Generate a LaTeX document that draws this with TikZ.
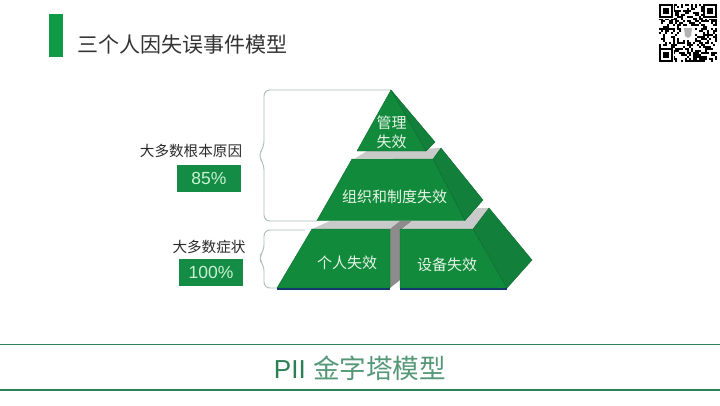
\documentclass[tikz,border=0pt]{standalone}
\usepackage{fontspec}
\setmainfont{Liberation Sans}
\newfontfamily\cjk{Noto Sans CJK SC}
\definecolor{pgreen}{HTML}{128A3C}
\definecolor{pside}{HTML}{12803A}
\definecolor{pedge}{HTML}{0E6A30}
\definecolor{bargreen}{HTML}{119A45}
\definecolor{boxgreen}{HTML}{148C45}
\definecolor{lightgrey}{HTML}{C9CBCA}
\definecolor{darkgrey}{HTML}{8C8C8C}
\definecolor{navy}{HTML}{123A6E}
\definecolor{bracec}{HTML}{A9BDB4}
\definecolor{rulec}{HTML}{2C8258}
\definecolor{titlec}{HTML}{333333}
\definecolor{labelc}{HTML}{2A2A2A}
\definecolor{wtext}{HTML}{E4F5E6}
\definecolor{pctext}{HTML}{C9F2D2}
\definecolor{bottomc}{HTML}{2A7F55}
\tikzset{
  front/.style={fill=pgreen,draw=pedge,line width=0.4pt},
  sideface/.style={fill=pside,draw=pedge,line width=0.4pt},
  lband/.style={fill=lightgrey,draw=none},
  dband/.style={fill=darkgrey,draw=none},
  facetext/.style={text=wtext,font=\cjk\fontsize{15}{19}\selectfont,align=center,inner sep=0pt},
  sidelabel/.style={text=labelc,font=\cjk\fontsize{14.6}{17}\selectfont,inner sep=0pt},
  pctbox/.style={fill=boxgreen,text=pctext,font=\fontsize{17.5}{20}\selectfont,minimum width=64pt,minimum height=27pt,inner sep=0pt},
  bracel/.style={draw=bracec,line width=0.9pt,rounded corners=6pt},
  rulel/.style={draw=rulec,line width=1.8pt},
  qrm/.style={fill=black,draw=none}
}
\begin{document}
\begin{tikzpicture}[x=1pt,y=-1pt]
\useasboundingbox[fill=white] (0,0) rectangle (720,405);
% header
\fill[bargreen] (49,14) rectangle (63,57);
\node[anchor=west,text=titlec,inner sep=0pt,font=\cjk\fontsize{21}{24}\selectfont] (title) at (77,45) {三个人因失误事件模型};
% QR
\begin{scope}[shift={(659,4)},x=2pt,y=-2pt]
\pgfmathsetseed{4217}
\foreach \i in {0,...,28}{\foreach \j in {0,...,28}{
  \pgfmathsetmacro{\r}{rnd}
  \ifdim\r pt<0.5pt \fill[qrm] (\i,\j) rectangle ++(1,1);\fi
}}
\foreach \a/\b in {0/0,22/0,0/22}{
  \fill[white] (\a-0,\b-0) rectangle ++(7.6,7.6);
  \fill[black] (\a,\b) rectangle ++(7,7);
  \fill[white] (\a+1,\b+1) rectangle ++(5,5);
  \fill[black] (\a+2,\b+2) rectangle ++(3,3);
}
\fill[white] (11,11) rectangle ++(7,7);
\fill[black!30] (12.5,12) -- (16.5,12) -- (16,16) -- (14.5,17) -- (13,16) -- cycle;
\end{scope}
% braces
\coordinate (b1s) at (391,90);
\coordinate (b1e) at (317,221);
\coordinate (b2s) at (305,230);
\coordinate (b2e) at (277,288);
\draw[bracel] (b1s) -- (264,90) -- (264,147) -- (258,155.5) -- (264,164) -- (264,221) -- (b1e);
\draw[bracel] (b2s) -- (264,230) -- (264,251) -- (258,258) -- (264,265) -- (264,288) -- (b2e);
% bottom tier
\fill[lband] (312,229) -- (330,221) -- (400,221) -- (390,229) -- cycle;
\fill[dband] (390,229) -- (400,221) -- (412,221) -- (402,229) -- (400,229) -- (400,280) -- (390,288) -- cycle;
\fill[lband] (403,229) -- (412,221) -- (465,221) -- (477,208) -- (489,208) -- (473,229) -- cycle;
\draw[sideface] (473,229) -- (489,208) -- (532,260) -- (507,288) -- cycle;
\draw[front] (312,229) -- (390,229) -- (390,288) -- (277,288) -- cycle;
\draw[front] (400,229) -- (473,229) -- (507,288) -- (400,288) -- cycle;
\draw[navy,line width=1.6pt] (277,288.8) -- (390,288.8);
\draw[navy,line width=1.6pt] (400,288.8) -- (507,288.8);
% middle tier
\fill[lband] (355,158.5) -- (367,151) -- (441,148) -- (433,159) -- cycle;
\draw[sideface] (433,159) -- (441,148) -- (483,200) -- (465,220.5) -- cycle;
\draw[front] (352,159) -- (433,159) -- (465,220.5) -- (317,220.5) -- cycle;
% top tier
\draw[sideface] (391,90) -- (435,142) -- (426,151) -- cycle;
\draw[front] (391,90) -- (426,151) -- (357,151) -- cycle;
% face labels
\node[facetext] (t1) at (391.5,132.5) {管理\\失效};
\node[facetext] (t2) at (394.5,197) {组织和制度失效};
\node[facetext] (t3) at (347,263) {个人失效};
\node[facetext] (t4) at (447,265) {设备失效};
% left labels
\node[sidelabel] (l1) at (191,151) {大多数根本原因};
\node[pctbox] (p1) at (209,178.5) {85\%};
\node[sidelabel] (l2) at (209,247) {大多数症状};
\node[pctbox] (p2) at (211,272.5) {100\%};
% bottom banner
\draw[rulel] (0,344.5) -- (720,344.5);
\draw[rulel] (0,390) -- (720,390);
\node[inner sep=0pt,text=bottomc,font=\fontsize{26}{30}\selectfont] (banner) at (360,368) {PII {\cjk\fontsize{26.6}{30}\selectfont\color{bottomc!80!white} 金字塔模型}};
\end{tikzpicture}
\end{document}
